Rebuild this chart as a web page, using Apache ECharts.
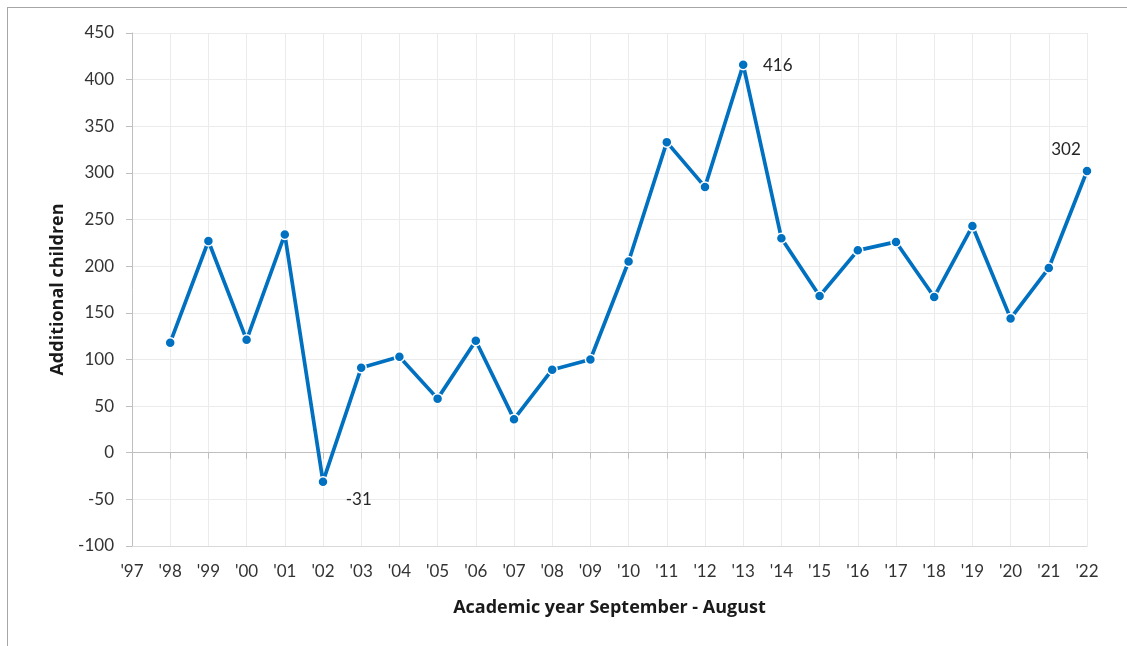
<!DOCTYPE html>
<html>
<head>
<meta charset="utf-8">
<script src="https://cdn.jsdelivr.net/npm/echarts@6/dist/echarts.min.js"></script>
<style>
  html, body { margin: 0; padding: 0; background: #fff; }
  #frame { position: absolute; left: 7px; top: 7px; width: 1130px; height: 650px; border-left: 1px solid #a6a6a6; border-top: 1px solid #a6a6a6; box-sizing: border-box; }
  #chart { position: absolute; left: 0; top: 0; width: 1127px; height: 646px; }
</style>
</head>
<body>
<div id="frame"></div>
<div id="chart"></div>
<script>
const years = ["'97","'98","'99","'00","'01","'02","'03","'04","'05","'06","'07","'08","'09","'10","'11","'12","'13","'14","'15","'16","'17","'18","'19","'20","'21","'22"];
const additionalChildren = [null, 118, 227, 121, 234, -31, 91, 103, 58, 120, 36, 89, 100, 205, 333, 285, 416, 230, 168, 217, 226, 167, 243, 144, 198, 302];
const labelledYears = ["'02", "'13", "'22"];
const yTicks = { min: -100, max: 450, interval: 50 };

const FONT = 'Lato, "Noto Sans", sans-serif';
const TITLE_FONT = '"Open Sans", "Noto Sans", sans-serif';
const BLUE = '#0070C0';

const labelOffsets = { "'02": ['right', [12, 18]], "'13": ['right', [9, 1]], "'22": ['top', [-21, -2]] };

const seriesData = additionalChildren.map((v, i) => {
  const y = years[i];
  if (labelledYears.includes(y)) {
    const cfg = labelOffsets[y];
    return { value: v, label: { show: true, position: cfg[0], offset: cfg[1] } };
  }
  return v;
});

const chart = echarts.init(document.getElementById('chart'));
chart.setOption({
  animation: false,
  backgroundColor: 'transparent',
  grid: { left: 132, right: 40, top: 33, bottom: 100, containLabel: false },
  xAxis: [
    {
      type: 'category',
      data: years,
      boundaryGap: false,
      position: 'bottom',
      axisLine: { onZero: false, lineStyle: { color: '#d9d9d9', width: 1 } },
      axisTick: { show: false },
      axisLabel: { color: '#333333', fontFamily: FONT, fontSize: 17, margin: 17, interval: 0 },
      splitLine: { show: true, lineStyle: { color: '#ebebeb', width: 1 } },
      name: 'Academic year September - August',
      nameLocation: 'middle',
      nameGap: 53,
      nameTextStyle: { color: '#1a1a1a', fontFamily: TITLE_FONT, fontSize: 18, fontWeight: 'bold' }
    },
    {
      type: 'category',
      data: years,
      boundaryGap: false,
      position: 'bottom',
      axisLine: { onZero: true, lineStyle: { color: '#bfbfbf', width: 1 } },
      axisTick: { show: true, inside: false, length: 6, interval: 0, lineStyle: { color: '#bfbfbf' } },
      axisLabel: { show: false },
      splitLine: { show: false }
    }
  ],
  yAxis: {
    type: 'value',
    min: yTicks.min,
    max: yTicks.max,
    interval: yTicks.interval,
    axisLine: { show: true, lineStyle: { color: '#bfbfbf', width: 1 } },
    axisTick: { show: true, length: 6, lineStyle: { color: '#bfbfbf' } },
    axisLabel: { color: '#333333', fontFamily: FONT, fontSize: 17, margin: 18 },
    splitLine: { show: true, lineStyle: { color: '#ebebeb', width: 1 } },
    name: 'Additional children',
    nameLocation: 'middle',
    nameGap: 65,
    nameRotate: 90,
    nameTextStyle: { color: '#1a1a1a', fontFamily: TITLE_FONT, fontSize: 18, fontWeight: 'bold' }
  },
  series: [{
    type: 'line',
    xAxisIndex: 0,
    data: seriesData,
    connectNulls: false,
    symbol: 'circle',
    symbolSize: 10,
    showAllSymbol: true,
    lineStyle: { color: BLUE, width: 3.7 },
    itemStyle: { color: BLUE, borderColor: '#ffffff', borderWidth: 1.5 },
    label: { show: false, color: '#262626', fontFamily: FONT, fontSize: 17 },
    emphasis: { disabled: true },
    z: 5
  }]
});
</script>
</body>
</html>
